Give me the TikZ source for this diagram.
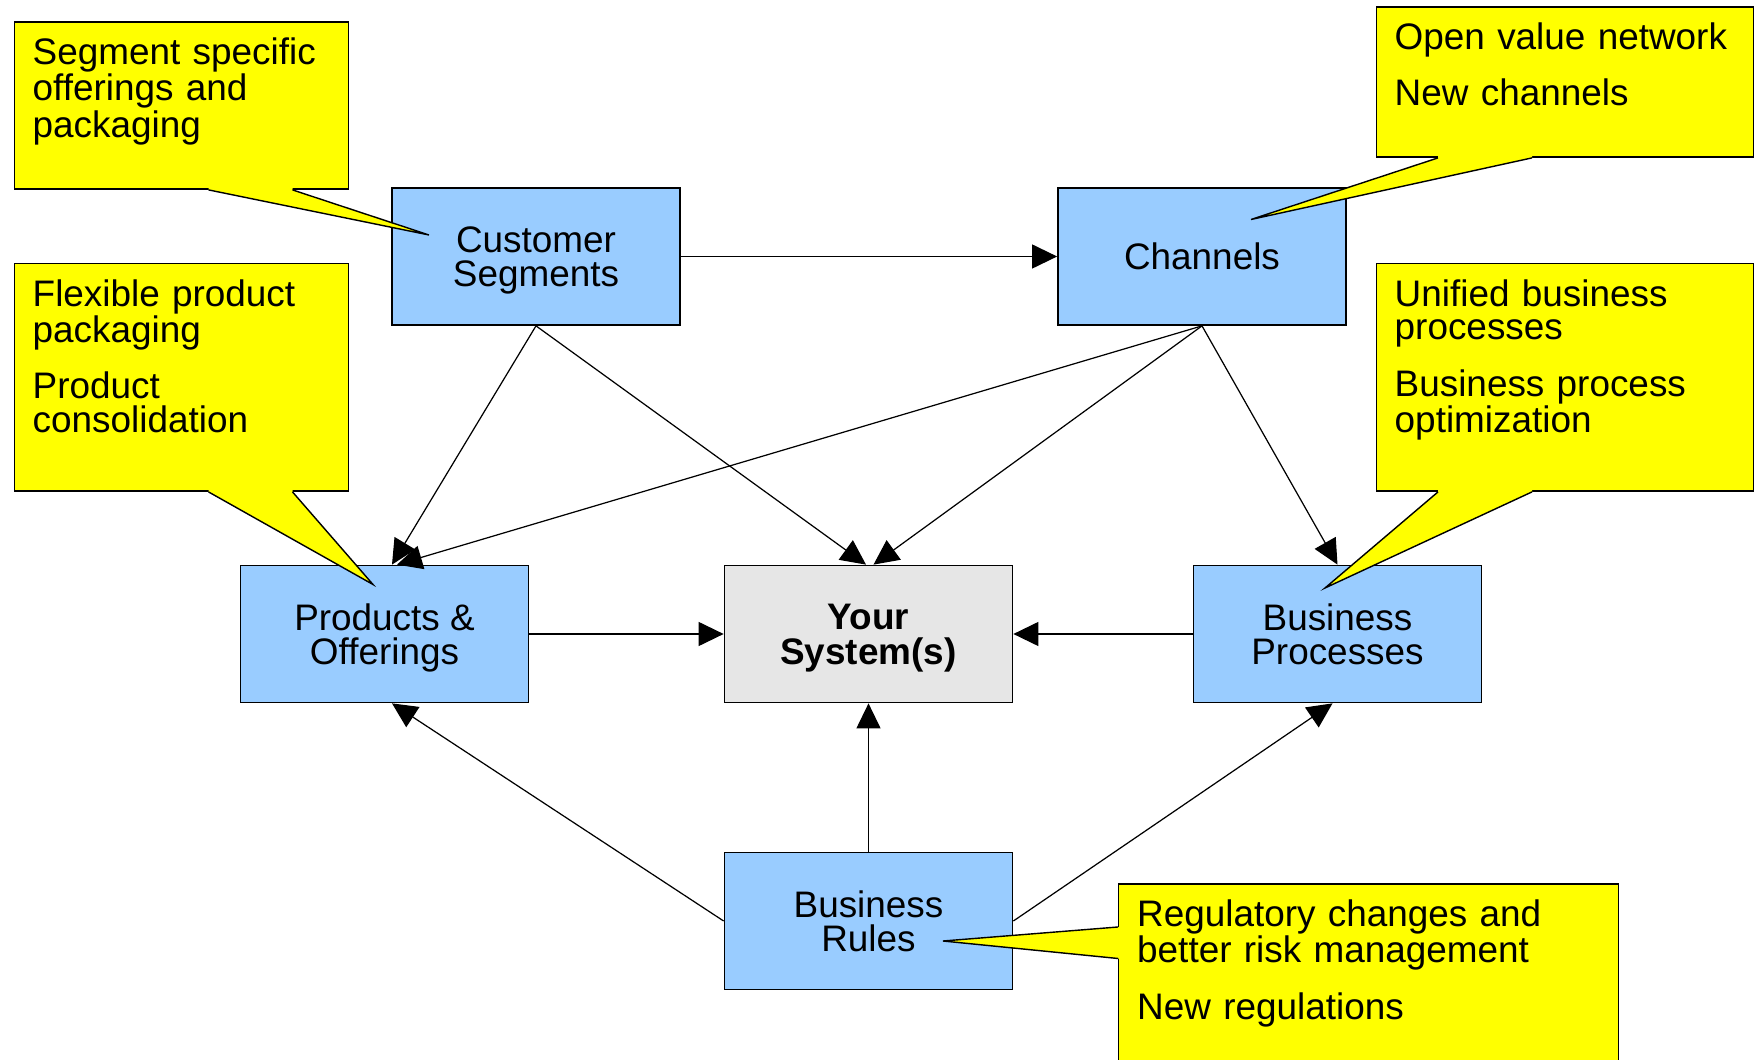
\documentclass[tikz,border=0pt]{standalone}
\usepackage{fontspec}
\setmainfont{Liberation Sans}
\usepackage{tikz}
\usetikzlibrary{shapes.geometric, arrows.meta, calc}
\definecolor{boxblue}{HTML}{99CCFF}
\definecolor{sysgray}{HTML}{E6E6E6}
\definecolor{noteyellow}{HTML}{FFFF00}
\setlength{\lineskiplimit}{-10pt}

\begin{document}
\begin{tikzpicture}[node distance=2cm]
% Styles
\tikzstyle{block} = [rectangle, minimum width=5.76cm, minimum height=2.74cm, text centered, draw=black, line width=1pt, fill=boxblue, align=center, text depth=0cm, font=\fontsize{21}{19.7}\selectfont]
\tikzstyle{system} = [block, fill=sysgray, font=\fontsize{21}{19.7}\selectfont\bfseries]
\tikzstyle{note} = [rectangle, anchor=north west, draw=black, line width=0.8pt, fill=noteyellow, align=left, inner xsep=0.37cm, inner ysep=0.32cm, text height=0.53cm, font=\fontsize{21}{19.2}\selectfont]
\tikzstyle{arrow} = [line width=0.7pt, -{Triangle[length=0.5cm, width=0.48cm]}]
\tikzstyle{pointer} = [draw=black, line width=0.8pt]

\clip (0,0) rectangle (35.12,-21.2);

\node (your_system) [system] at (17.37,-12.68) {Your\\System(s)};
\node (products) [block, left of=your_system, xshift=-7.68cm] {Products \&\\Offerings};
\node (bus_proc) [block, right of=your_system, xshift=7.38cm] {Business\\Processes};
\node (bus_rules) [block, below of=your_system, yshift=-3.74cm] {Business\\Rules};
\node (cust_seg) [block, above of=products, yshift=5.55cm, xshift=3.03cm] {Customer\\Segments};
\node (channels) [block, right of=cust_seg, xshift=11.32cm] {Channels};

\draw [arrow] (cust_seg) -- (channels);
\draw [arrow] (cust_seg.south) -- ([xshift=0.15cm]products.north);
\draw [arrow] (cust_seg.south) -- ([xshift=-0.05cm]your_system.north);
\draw [arrow] (channels.south) -- ([xshift=0.25cm]products.north);
\draw [arrow] (channels.south) -- ([xshift=0.1cm]your_system.north);
\draw [arrow] (channels.south) -- (bus_proc.north);
\draw [arrow] (products) -- (your_system);
\draw [arrow] (bus_proc) -- (your_system);
\draw [arrow] (bus_rules) -- (your_system);
\draw [arrow] (bus_rules.west) -- ([xshift=0.15cm]products.south);
\draw [arrow] (bus_rules.east) -- ([xshift=-0.1cm]bus_proc.south);

% Callouts
\node (seg_note) [note, text width=5.94cm, text depth=2.17cm] at (0.27,-0.43) {Segment specific\\offerings and\\packaging};
\node (flex_note) [note, text width=5.94cm, text depth=3.38cm] at (0.27,-5.26) {Flexible product\\packaging\\[0.4cm]Product\\consolidation};
\node (open_note) [note, text width=6.81cm, text depth=1.83cm] at (27.51,-0.13) {Open value network\\[0.4cm]New channels};
\node (unif_note) [note, text width=6.81cm, text depth=3.38cm] at (27.51,-5.26) {Unified business\\processes\\[0.4cm]Business process\\optimization};
\node (reg_note) [note, text width=9.25cm, text depth=4cm] at (22.36,-17.67) {Regulatory changes and\\better risk management\\[0.4cm]New regulations};

\coordinate (seg_tip) at ($(cust_seg.center)+(-2.14,0.43)$);
\coordinate (seg_a) at ($(seg_note.south west)+(3.90,0)$);
\coordinate (seg_b) at ($(seg_note.south west)+(5.58,0)$);
\fill [noteyellow] ($(seg_a)+(0,0.06)$) -- (seg_a) -- (seg_tip) -- (seg_b) -- ($(seg_b)+(0,0.06)$) -- cycle;
\draw [pointer] (seg_a) -- (seg_tip) -- (seg_b);

\coordinate (flex_tip) at ($(products.center)+(-0.23,0.99)$);
\coordinate (flex_a) at ($(flex_note.south west)+(3.90,0)$);
\coordinate (flex_b) at ($(flex_note.south west)+(5.58,0)$);
\fill [noteyellow] ($(flex_a)+(0,0.06)$) -- (flex_a) -- (flex_tip) -- (flex_b) -- ($(flex_b)+(0,0.06)$) -- cycle;
\draw [pointer] (flex_a) -- (flex_tip) -- (flex_b);

\coordinate (open_tip) at ($(channels.center)+(0.98,0.74)$);
\coordinate (open_a) at ($(open_note.south west)+(1.25,0)$);
\coordinate (open_b) at ($(open_note.south west)+(3.13,0)$);
\fill [noteyellow] ($(open_a)+(0,0.06)$) -- (open_a) -- (open_tip) -- (open_b) -- ($(open_b)+(0,0.06)$) -- cycle;
\draw [pointer] (open_a) -- (open_tip) -- (open_b);

\coordinate (unif_tip) at ($(bus_proc.center)+(-0.25,0.92)$);
\coordinate (unif_a) at ($(unif_note.south west)+(1.25,0)$);
\coordinate (unif_b) at ($(unif_note.south west)+(3.13,0)$);
\fill [noteyellow] ($(unif_a)+(0,0.06)$) -- (unif_a) -- (unif_tip) -- (unif_b) -- ($(unif_b)+(0,0.06)$) -- cycle;
\draw [pointer] (unif_a) -- (unif_tip) -- (unif_b);

\coordinate (reg_tip) at ($(bus_rules.center)+(1.49,-0.40)$);
\coordinate (reg_a) at ($(reg_note.north west)+(0,-0.87)$);
\coordinate (reg_b) at ($(reg_note.north west)+(0,-1.50)$);
\fill [noteyellow] ($(reg_a)+(0.06,0)$) -- (reg_a) -- (reg_tip) -- (reg_b) -- ($(reg_b)+(0.06,0)$) -- cycle;
\draw [pointer] (reg_a) -- (reg_tip) -- (reg_b);

\end{tikzpicture}
\end{document}
